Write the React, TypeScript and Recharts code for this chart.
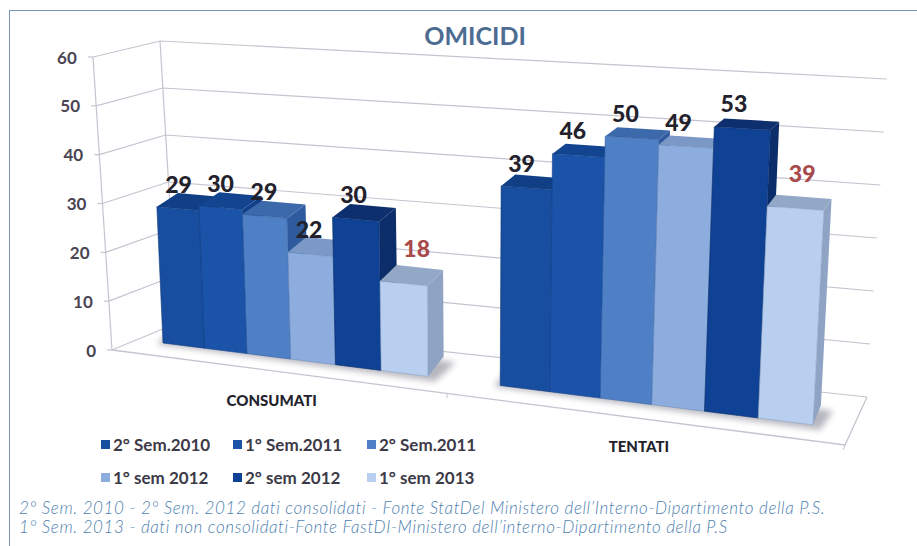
import React from 'react';
import { BarChart, Bar, XAxis, YAxis, CartesianGrid, Legend } from 'recharts';

const title = 'OMICIDI';
const categories = ['CONSUMATI', 'TENTATI'];
const seriesNames = ['2° Sem.2010', '1° Sem.2011', '2° Sem.2011', '1° sem 2012', '2° sem 2012', '1° sem 2013'];
const sem2010 = [29, 39];
const sem2011a = [30, 46];
const sem2011b = [29, 50];
const sem2012a = [22, 49];
const sem2012b = [30, 53];
const sem2013 = [18, 39];
const seriesValues = [sem2010, sem2011a, sem2011b, sem2012a, sem2012b, sem2013];
const yTicks = [0, 10, 20, 30, 40, 50, 60];
const note1 = '2° Sem. 2010 - 2° Sem. 2012 dati consolidati - Fonte StatDel Ministero dell’Interno-Dipartimento della P.S.';
const note2 = '1° Sem. 2013 - dati non consolidati-Fonte FastDI-Ministero dell’interno-Dipartimento della P.S';

const front = ['#174e9f', '#1a53a8', '#4f80c6', '#8cadde', '#0f4295', '#b8cff0'];
const topFace = ['#113f86', '#134490', '#3c69aa', '#7b98c6', '#0d2f6e', '#93a7c6'];
const sideFace = ['#103a7c', '#124088', '#2f5a9e', '#6f8cba', '#0b2d69', '#8fa4c4'];

const rows = categories.map((name, i) => {
  const row: Record<string, string | number> = { name };
  seriesNames.forEach((s, j) => { row[s] = seriesValues[j][i]; });
  return row;
});

// Flat plot layout handed to Recharts, and its projection to the oblique 3D view.
const W = 917, H = 546;
const plotLeft = 100, plotW = 720, plotTop = 57, plotH = 292;
const groupGap = 36;
const yAxisW = 40, xAxisH = 30;
const t0 = plotLeft + groupGap;
const k = plotH / 60;

const xBase = (t: number) => 163 + 0.8538 * t + 0.0002304 * t * t;
const yBase = (xb: number) => 343 + 0.126 * (xb - 163);
const perUnit = (xb: number) => 4.7 + 0.00123 * (xb - 163);
const lean = (xb: number) => (xb - 470) * 0.000147;
const project = (f: number, v: number): [number, number] => {
  const xb = xBase(f - t0);
  const h = perUnit(xb) * v;
  return [xb + lean(xb) * h, yBase(xb) - h];
};
const deep = (p: [number, number], v: number): [number, number] => [
  p[0] + 21 - (p[0] - 160) * 0.02,
  p[1] - (20 - 0.22 * v),
];
const pts = (list: [number, number][]) => list.map((p) => p.join(',')).join(' ');

const makeShape = (s: number) => (props: any) => {
  const { x, width, height } = props;
  const v = height / k;
  const fl0 = project(x, 0), fr0 = project(x + width, 0);
  const fl = project(x, v), fr = project(x + width, v);
  const bl = deep(fl, v), br = deep(fr, v), br0 = deep(fr0, 0);
  return (
    <g>
      <polygon points={pts([fr0, fr, br, br0])} fill={sideFace[s]} />
      <polygon points={pts([fl, fr, br, bl])} fill={topFace[s]} />
      <polygon points={pts([fl0, fr0, fr, fl])} fill={front[s]} stroke={sideFace[s]} strokeWidth={0.6} />
    </g>
  );
};

const makeLabel = (s: number) => (props: any) => {
  const { x, width, height, value } = props;
  const v = height / k;
  const p = project(x + width / 2, v);
  const last = s === 5;
  const cx = p[0] + 1 - (p[0] - 160) * 0.016 + (last ? 16 : 0);
  const cy = p[1] - (last ? 35 : 25);
  return (
    <text x={cx} y={cy} textAnchor="middle" dominantBaseline="central"
      fontFamily="Lato" fontWeight={900} fontSize={23} fill={last ? '#a84a4c' : '#23222c'}>
      {value}
    </text>
  );
};

const lineColor = '#c4c4d0';

const wallLine = (props: any) => {
  const v = Math.round((plotTop + plotH - props.y1) / k);
  const ax = 112 - (19 * v) / 60, ay = 350 - v * 4.883;
  const bx = 177 - (17 * v) / 60, by = 323 - v * 4.7;
  const rx = 867 + v / 3, ry = 397 - v * 5.3;
  const shadow = (a: number, b: number) => {
    const fl = project(t0 + a, 0), fr = project(t0 + b, 0);
    const br = deep(fr, 0), bl = deep(fl, 0);
    return [[fl[0] - 6, fl[1] + 1], [fr[0] + 7, fr[1] + 5], [br[0] + 12, br[1] + 6], [bl[0] - 4, bl[1]]] as [number, number][];
  };
  return (
    <g key={props.key}>
      {v === 0 && (
        <g>
          <defs>
            <filter id="floorBlur" x="-20%" y="-50%" width="140%" height="200%">
              <feGaussianBlur stdDeviation="3" />
            </filter>
          </defs>
          <polyline points="93,57 112,350" fill="none" stroke={lineColor} strokeWidth={1.2} />
          <polyline points="160,41 177,323" fill="none" stroke={lineColor} strokeWidth={1.2} />
          <polyline points="112,350 845,445 867,397" fill="none" stroke={lineColor} strokeWidth={1.3} />
          <line x1={447} y1={393} x2={447} y2={398} stroke={lineColor} />
          <line x1={845} y1={445} x2={843} y2={450} stroke={lineColor} />
          <polygon points={pts(shadow(0, 288))} fill="#8f8f9c" opacity={0.65} filter="url(#floorBlur)" />
          <polygon points={pts(shadow(360, 648))} fill="#8f8f9c" opacity={0.65} filter="url(#floorBlur)" />
        </g>
      )}
      <line x1={ax - 5} y1={ay} x2={ax} y2={ay} stroke={lineColor} strokeWidth={1.2} />
      <polyline points={`${ax},${ay} ${bx},${by} ${rx},${ry}`} fill="none" stroke={lineColor} strokeWidth={1.2} />
    </g>
  );
};

const YTick = (props: any) => {
  const v = props.payload.value;
  return (
    <text x={96 - 0.32 * v} y={350 - v * 4.883} textAnchor="end" dominantBaseline="central"
      fontFamily="Lato" fontWeight={700} fontSize={17} fill="#4b4452">
      {v}
    </text>
  );
};

const XTick = (props: any) => {
  const p = project(props.x, 0);
  return (
    <text x={p[0] - 19 + ((p[0] - 291) / 360) * 6} y={p[1] + 41} textAnchor="middle" dominantBaseline="central"
      fontFamily="Lato" fontWeight={900} fontSize={15} fill="#23222c">
      {props.payload.value}
    </text>
  );
};

const legendCols = [101, 233, 367];
const legendRows = [444, 477];

const LegendBody = (props: any) => (
  <div style={{ position: 'relative', width: W, height: H, pointerEvents: 'none' }}>
    {(props.payload || []).map((e: any) => {
      const i = seriesNames.indexOf(e.value);
      const left = legendCols[i % 3];
      const top = legendRows[Math.floor(i / 3)];
      return (
        <div key={e.value} style={{ position: 'absolute', left, top: top - 10, height: 20, display: 'flex', alignItems: 'center', whiteSpace: 'nowrap' }}>
          <span style={{ width: 9, height: 9, background: front[i], marginRight: 3, display: 'inline-block' }} />
          <span style={{ fontFamily: 'Lato', fontWeight: 700, fontSize: 17, color: '#3d3a48' }}>{e.value}</span>
        </div>
      );
    })}
  </div>
);

const noteStyle: React.CSSProperties = {
  position: 'absolute', left: 19, whiteSpace: 'nowrap', fontFamily: 'Lato', fontStyle: 'italic',
  fontWeight: 300, fontSize: 17, letterSpacing: 0.6, color: '#4f7fb0', lineHeight: '20px',
};

export default function App() {
  return (
    <div style={{ position: 'absolute', left: 0, top: 0, width: W, height: H, background: '#fff', overflow: 'hidden' }}>
      <div style={{ position: 'absolute', left: 9, top: 10, width: W, height: H, boxSizing: 'border-box', borderLeft: '1.5px solid #7a93b8', borderTop: '1.5px solid #7a93b8' }} />
      <div style={{ position: 'absolute', left: 0, width: 950, top: 20, textAlign: 'center', fontFamily: 'Lato', fontWeight: 700, fontSize: 25, color: '#4d6c92' }}>{title}</div>
      <div style={{ position: 'absolute', left: 0, top: 0 }}>
        <BarChart width={W} height={H} data={rows} barGap={0} barCategoryGap={groupGap}
          margin={{ left: plotLeft - yAxisW, right: W - plotLeft - plotW, top: plotTop, bottom: H - plotTop - plotH - xAxisH }}>
          <CartesianGrid horizontal={wallLine} vertical={false} />
          <XAxis dataKey="name" axisLine={false} tickLine={false} tick={XTick} height={xAxisH} interval={0} />
          <YAxis domain={[0, 60]} ticks={yTicks} axisLine={false} tickLine={false} tick={YTick} width={yAxisW} />
          <Legend layout="horizontal" verticalAlign="middle" align="center" content={LegendBody}
            wrapperStyle={{ left: 0, top: 0, width: W, height: H, position: 'absolute' }} />
          {seriesNames.map((s, i) => (
            <Bar key={s} dataKey={s} fill={front[i]} isAnimationActive={false}
              shape={makeShape(i)} label={makeLabel(i)} />
          ))}
        </BarChart>
      </div>
      <div style={{ ...noteStyle, top: 498 }}>{note1}</div>
      <div style={{ ...noteStyle, top: 517 }}>{note2}</div>
    </div>
  );
}
